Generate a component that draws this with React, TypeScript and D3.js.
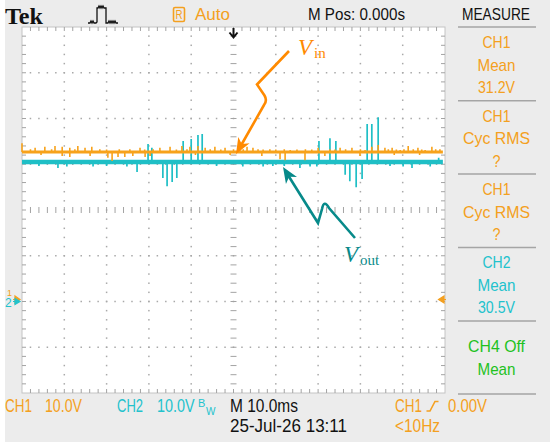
import React from "react";
import * as d3 from "d3";

// ---- data ----
// time in ms (10 ms/div), voltage in V (10 V/div, ground 2 div below centre)
const timeDomain = [-50, 50];
const voltDomain = [-20, 60];

const ch1Level = 32.7;
const ch2Level = 30.5;

const ch1UpTimes = [-50.0, -48.0, -46.9, -44.6, -43.0, -42.2, -40.5, -38.7, -37.5, -36.8, -35.1, -33.5, -31.6, -30.0, -27.0, -24.5, -22.1, -21.0, -19.0, -17.4, -15.0, -13.5, -12.2, -11.0, -10.3, -8.4, -6.7, -5.5, -4.4, -3.0, -2.0, 0.0, 1.5, 2.3, 3.2, 4.6, 5.8, 7.0, 8.6, 10.0, 12.0, 13.4, 15.0, 17.0, 18.5, 20.0, 22.8, 24.0, 25.2, 26.5, 28.0, 30.0, 31.1, 32.7, 34.2, 35.8, 36.6, 37.5, 38.5, 39.4, 40.3, 41.3, 42.5, 43.6, 44.5, 45.3, 46.9, 47.8, 48.8];
const ch1UpVolts = [34.6, 33.3, 33.6, 33.8, 33.3, 34.0, 33.8, 33.6, 33.3, 34.0, 33.6, 33.8, 33.3, 33.2, 33.3, 33.3, 33.6, 33.2, 33.3, 33.6, 33.8, 33.2, 34.0, 33.3, 33.8, 34.0, 33.6, 33.3, 33.8, 33.2, 33.6, 33.3, 33.8, 33.3, 33.8, 33.6, 33.3, 33.2, 33.3, 33.2, 33.3, 33.1, 33.2, 33.3, 33.2, 33.6, 33.3, 33.2, 33.6, 33.3, 33.6, 33.3, 33.1, 33.8, 34.2, 33.6, 33.3, 33.6, 33.2, 33.1, 33.3, 34.0, 33.3, 33.6, 33.2, 33.1, 33.8, 33.3, 33.3];
const ch1DownTimes = [-45.5, -40.5, -38.7, -33.9, -29.7, -28.7, -27.3, -25.7, -23.8, -20.9, -19.7, -9.0, -0.8, 6.7, 11.0, 12.2, 16.9, 21.6, 29.9, 38.0, 44.0];
const ch1DownVolts = [32.0, 31.8, 31.6, 31.8, 31.4, 30.7, 31.6, 31.6, 31.8, 31.6, 31.8, 32.0, 32.0, 31.8, 31.1, 30.9, 30.9, 31.8, 31.8, 32.0, 32.0];

const ch2UpTimes = [-20.2, -19.3, -11.9, -10.0, -8.4, -7.4, 20.2, 22.8, 24.2, 31.6, 32.7, 34.2, 48.5];
const ch2UpVolts = [34.4, 33.6, 35.1, 35.5, 36.4, 36.6, 35.1, 35.7, 35.1, 38.8, 38.8, 40.3, 31.4];
const ch2DownTimes = [-46.0, -41.5, -39.4, -33.2, -30.0, -25.2, -22.8, -16.7, -15.7, -14.5, -13.4, -4.0, 2.2, 7.0, 9.3, 12.0, 15.7, 18.1, 19.7, 26.4, 27.5, 29.0, 30.4, 37.0, 40.1, 42.2, 46.5];
const ch2DownVolts = [29.6, 29.2, 29.5, 29.5, 29.6, 29.5, 28.3, 27.0, 25.2, 26.1, 27.0, 29.6, 29.5, 29.5, 29.6, 29.6, 29.2, 29.5, 29.5, 27.7, 26.3, 25.0, 26.8, 29.6, 29.5, 29.2, 29.5];

const measureBlocks = [
  { lines: ["CH1", "Mean", "31.2V"], widths: [28, 38, 37], color: "#f4a020" },
  { lines: ["CH1", "Cyc RMS", "?"], widths: [28, 67, 8], color: "#f4a020" },
  { lines: ["CH1", "Cyc RMS", "?"], widths: [28, 67, 8], color: "#f4a020" },
  { lines: ["CH2", "Mean", "30.5V"], widths: [28, 38, 37], color: "#22c2cc" },
  { lines: ["CH4 Off", "Mean"], widths: [57, 38], color: "#1fc21f" },
];

const ORANGE = "#f4a020";
const CYAN = "#22c2cc";
const TRACE_OR = "#f7a21b";
const TRACE_CY = "#1fbfc6";
const ANN_OR = "#ff8a00";
const ANN_TEAL = "#078a8a";
const BG = "#ececec";

const X0 = 22, X1 = 445, Y0 = 27, Y1 = 393;

function Txt(props: any) {
  const { x, y, w, size = 18, fill = "#111", anchor = "start", children, family, weight, style } = props;
  return (
    <text
      x={x}
      y={y}
      textLength={w}
      lengthAdjust={w ? "spacingAndGlyphs" : undefined}
      fontSize={size}
      fill={fill}
      textAnchor={anchor}
      fontFamily={family || "Liberation Sans, Arial, sans-serif"}
      fontWeight={weight}
      fontStyle={style}
    >
      {children}
    </text>
  );
}

function arrowHead(tip: [number, number], from: [number, number], len: number, half: number) {
  const dx = tip[0] - from[0], dy = tip[1] - from[1];
  const L = Math.hypot(dx, dy);
  const ux = dx / L, uy = dy / L;
  const px = -uy, py = ux;
  const bx = tip[0] - ux * len, by = tip[1] - uy * len;
  const nx = tip[0] - ux * len * 0.72, ny = tip[1] - uy * len * 0.72;
  return `M${tip[0]},${tip[1]} L${bx + px * half},${by + py * half} L${nx},${ny} L${bx - px * half},${by - py * half} Z`;
}

export default function App() {
  const x = d3.scaleLinear().domain(timeDomain).range([X0, X1]);
  const y = d3.scaleLinear().domain(voltDomain).range([Y1, Y0]);

  const minorT = d3.range(timeDomain[0] + 2, timeDomain[1] - 0.001, 2);
  const minorV = d3.range(voltDomain[0] + 2, voltDomain[1] - 0.001, 2);
  const majorT = d3.range(-40, 40.001, 10).filter((t) => t !== 0);
  const majorV = d3.range(-10, 50.001, 10).filter((v) => v !== 20);

  const dots: any[] = [];
  majorT.forEach((t) =>
    minorV.forEach((v) => dots.push(<rect key={`vt${t}_${v}`} x={x(t) - 0.75} y={y(v) - 0.75} width={1.5} height={1.5} fill="#a9a9a9" />))
  );
  majorV.forEach((v) =>
    minorT.forEach((t) => dots.push(<rect key={`hv${v}_${t}`} x={x(t) - 0.75} y={y(v) - 0.75} width={1.5} height={1.5} fill="#a9a9a9" />))
  );

  const ticks: string[] = [];
  minorT.forEach((t) => {
    const xx = x(t);
    ticks.push(`M${xx},${Y0} v4`);
    ticks.push(`M${xx},${Y1} v-4`);
    ticks.push(`M${xx},${y(20) - 3} v6`);
  });
  minorV.forEach((v) => {
    const yy = y(v);
    ticks.push(`M${X0},${yy} h4`);
    ticks.push(`M${X1},${yy} h-4`);
    ticks.push(`M${x(0) - 3},${yy} h6`);
  });

  const spikes = (times: number[], volts: number[], level: number) =>
    times.map((t, i) => `M${x(t)},${y(level)} L${x(t)},${y(volts[i])}`).join(" ");

  const panelSeps = [27, 100.7, 174, 247.5, 321, 394];
  const blockBase = [48, 121.5, 195, 268, 352];

  // annotation geometry
  const orPath = "M289,51 L257,84.5 L264.5,95.5 Q267.5,100.5 264,105 L241,145.5";
  const cyPath = "M355,238 L329,208 Q324,199 322,209 L318,223 L287,173.5";

  return (
    <svg width={550} height={447} style={{ position: "absolute", left: 0, top: 0 }} xmlns="http://www.w3.org/2000/svg">
      <rect x={0} y={0} width={550} height={447} fill="#ffffff" />
      <rect x={5} y={0} width={545} height={442} fill={BG} />
      {/* plot area */}
      <rect x={X0} y={Y0} width={X1 - X0} height={Y1 - Y0} fill="#ffffff" stroke="#c4c4c4" strokeWidth={1} />
      {dots}
      <path d={ticks.join(" ")} stroke="#a3a3a3" strokeWidth={1} fill="none" />

      {/* header */}
      <Txt x={5} y={24} w={38} size={23} family="Liberation Serif, serif" weight="bold">Tek</Txt>
      <path
        d="M88,23 L90,23 L91,21 L92,23 L93,21 L94,23 L96,23 L97,22 L97,8 L98,8 L99,6 L100,8 L101,6 L102,8 L103,6 L104,8 L106,8 L106,23 L108,23 L109,21 L110,23 L111,21 L112,23 L113,21 L114,23 L115,21 L116,23 L118,23"
        stroke="#111" strokeWidth={1.3} fill="none"
      />
      <rect x={173.5} y={7.5} width={11} height={14} rx={1.5} fill="none" stroke={ORANGE} strokeWidth={1.6} />
      <Txt x={179} y={19} size={12} fill={ORANGE} anchor="middle" w={7}>R</Txt>
      <Txt x={195} y={20} w={35} size={17} fill={ORANGE}>Auto</Txt>
      <Txt x={308} y={20} w={97} size={17}>M Pos: 0.000s</Txt>
      <Txt x={462} y={20} w={68} size={17}>MEASURE</Txt>

      {/* trigger position marker */}
      <path d={`M${x(0)},28 v9 M${x(0) - 4},32.5 L${x(0)},37.5 L${x(0) + 4},32.5`} stroke="#111" strokeWidth={2} fill="none" />

      {/* measurement panel */}
      {panelSeps.map((s) => (
        <line key={s} x1={458} x2={536} y1={s} y2={s} stroke="#a5a5a5" strokeWidth={1.5} />
      ))}
      {measureBlocks.map((b, bi) =>
        b.lines.map((ln, li) => (
          <Txt key={`${bi}_${li}`} x={496.5} y={blockBase[bi] + li * 22.5} w={b.widths[li]} size={17} fill={b.color} anchor="middle">
            {ln}
          </Txt>
        ))
      )}

      {/* traces */}
      <path d={spikes(ch2UpTimes, ch2UpVolts, ch2Level) + " " + spikes(ch2DownTimes, ch2DownVolts, ch2Level)} stroke={TRACE_CY} strokeWidth={1.7} fill="none" />
      <line x1={x(-50)} x2={x(49.5)} y1={y(ch2Level)} y2={y(ch2Level)} stroke={TRACE_CY} strokeWidth={4.5} />
      <path d={spikes(ch1UpTimes, ch1UpVolts, ch1Level) + " " + spikes(ch1DownTimes, ch1DownVolts, ch1Level)} stroke={TRACE_OR} strokeWidth={1.6} fill="none" />
      <line x1={x(-50)} x2={x(49.5)} y1={y(ch1Level)} y2={y(ch1Level)} stroke={TRACE_OR} strokeWidth={3} />

      {/* ground markers */}
      <Txt x={7} y={295.5} size={9} fill={ORANGE}>1</Txt>
      <Txt x={5} y={307} size={12} fill={CYAN}>2</Txt>
      <path d="M13,299.5 h3 M15,296 L20,299.5 L15,303 Z" stroke={ORANGE} strokeWidth={1.2} fill={ORANGE} />
      <path d="M13,301.5 h3 M15,298.5 L20,301.5 L15,304.5 Z" stroke={CYAN} strokeWidth={1.2} fill={CYAN} />
      {/* trigger level marker */}
      <path d="M446,299.5 h-3 M444,296 L438.5,299.5 L444,303 Z" stroke={ORANGE} strokeWidth={1.2} fill={ORANGE} />

      {/* annotations */}
      <path d={orPath} stroke={ANN_OR} strokeWidth={2.6} fill="none" strokeLinejoin="miter" />
      <path d={arrowHead([236, 154], [264, 105], 16, 6.5)} fill={ANN_OR} />
      <text x={298} y={55} fontFamily="Liberation Serif, serif" fontStyle="italic" fontSize={23} fill={ANN_OR}>V</text>
      <text x={314} y={58} fontFamily="Liberation Serif, serif" fontSize={15} fill={ANN_OR}>in</text>

      <path d={cyPath} stroke={ANN_TEAL} strokeWidth={2.6} fill="none" strokeLinejoin="miter" />
      <path d={arrowHead([283, 167], [318, 223], 16, 6.5)} fill={ANN_TEAL} />
      <text x={344} y={262} fontFamily="Liberation Serif, serif" fontStyle="italic" fontSize={23} fill={ANN_TEAL}>V</text>
      <text x={360} y={265} fontFamily="Liberation Serif, serif" fontSize={15} fill={ANN_TEAL}>out</text>

      {/* footer */}
      <Txt x={5} y={412} w={27} fill={ORANGE}>CH1</Txt>
      <Txt x={45} y={412} w={37} fill={ORANGE}>10.0V</Txt>
      <Txt x={117} y={412} w={26} fill={CYAN}>CH2</Txt>
      <text transform="translate(157,412) scale(0.8,1)" x={0} y={0} fontSize={18} fill={CYAN} fontFamily="Liberation Sans, Arial, sans-serif">10.0V</text>
      <text x={198} y={407} fontSize={11} fill={CYAN} fontFamily="Liberation Sans, Arial, sans-serif">
        B<tspan x={206} y={415} fontSize={10}>W</tspan>
      </text>
      <Txt x={230} y={412} w={68}>M 10.0ms</Txt>
      <Txt x={395} y={412} w={27} fill={ORANGE}>CH1</Txt>
      <path d="M426.5,411 L430,411 L435,401.5 L438.5,401.5" stroke={ORANGE} strokeWidth={1.6} fill="none" />
      <Txt x={448} y={412} w={39} fill={ORANGE}>0.00V</Txt>
      <Txt x={230} y={432} w={117}>25-Jul-26 13:11</Txt>
      <Txt x={395} y={432} w={45} fill={ORANGE}>&lt;10Hz</Txt>
    </svg>
  );
}
